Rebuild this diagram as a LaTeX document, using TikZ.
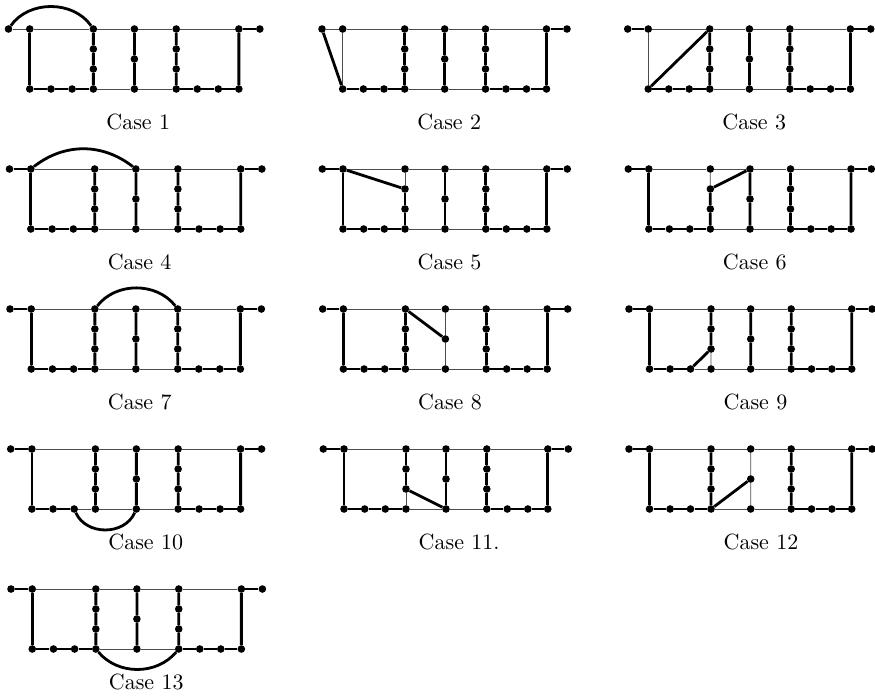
\documentclass[tikz,border=0pt]{standalone}
\usepackage{amsmath, amssymb}
\usepackage{xcolor}
\usepackage{tikz}
\usetikzlibrary{positioning, calc}

% one graph: id, left end x, top line y, x stretch, thin edges, caption
\newcommand{\casegraph}[6]{
  \foreach \p/\q in {#5} {\expandafter\gdef\csname skip#1\p\q\endcsname{}}
  \begin{scope}[shift={(#2,#3)}, xscale=#4]
    % Nodes
    \foreach \name/\px/\py in {tl/0/0, t1/20.7/0, t2/82.7/0, t3/122.7/0, t4/163.5/0, t5/224.5/0, tr/245/0,
        v2a/82.7/20, v2b/82.7/40, v3/122.7/30, v4a/163.5/20, v4b/163.5/40,
        b1/20.7/60, h1a/41.4/60, h1b/62/60, b2/82.7/60, b3/122.7/60, b4/163.5/60,
        h4a/184/60, h4b/204.5/60, b5/224.5/60}
      \node[dot] (#1-\name) at (\px,\py) {};
    \node[caselabel] (#1-label) at (95,93) {Case #6};
    % Links
    \foreach \p/\q in {tl/t1, t1/t2, t2/t3, t3/t4, t4/t5, t5/tr, t1/b1, b1/h1a, h1a/h1b, h1b/b2, b2/b3, b3/b4,
        b4/h4a, h4a/h4b, h4b/b5, b5/t5, t2/v2a, v2a/v2b, v2b/b2, t3/v3, v3/b3, t4/v4a, v4a/v4b, v4b/b4}
      \draw[thinedge] (#1-\p) -- (#1-\q);
    \foreach \p/\q in {tl/t1, t5/tr, t1/b1, b1/h1a, h1a/h1b, h1b/b2, b4/h4a, h4a/h4b, h4b/b5, b5/t5,
        t2/v2a, v2a/v2b, v2b/b2, t3/v3, v3/b3, t4/v4a, v4a/v4b, v4b/b4} {
      \ifcsname skip#1\p\q\endcsname\else
        \draw[thickedge] (#1-\p) -- (#1-\q);
      \fi
    }
  \end{scope}
}

\begin{document}
\begin{tikzpicture}[
    x=1pt, y=-1pt,
    dot/.style={circle, fill=black, inner sep=0pt, minimum size=7.6pt},
    thinedge/.style={line width=0.7pt, black!70},
    thickedge/.style={line width=2.8pt, black},
    caselabel/.style={anchor=west, inner sep=0pt, scale=2.2}
]
\useasboundingbox (0,0) rectangle (875,697);

% Row 1
\casegraph{c1}{8.5}{29}{1.026}{tl/t1}{1}
\draw[thickedge] (c1-tl) to[bend left=55] (c1-t2);
\casegraph{c2}{322}{29}{1}{tl/t1, t1/b1}{2}
\draw[thickedge] (c2-tl) -- (c2-b1);
\casegraph{c3}{627.7}{29}{0.992}{t1/b1}{3}
\draw[thickedge] (c3-b1) -- (c3-t2);

% Row 2
\casegraph{c4}{9.5}{169}{1.03}{}{4}
\draw[thickedge] (c4-t1) to[bend left=38] (c4-t3);
\casegraph{c5}{322.3}{169}{1}{t2/v2a}{5}
\draw[thickedge] (c5-t1) -- (c5-v2a);
\casegraph{c6}{628.3}{169}{0.992}{t2/v2a}{6}
\draw[thickedge] (c6-v2a) -- (c6-t3);

% Row 3
\casegraph{c7}{10}{309}{1.026}{}{7}
\draw[thickedge] (c7-t2) to[bend left=52] (c7-t4);
\casegraph{c8}{322.7}{309}{1}{t3/v3, v3/b3}{8}
\draw[thickedge] (c8-t2) -- (c8-v3);
\casegraph{c9}{629}{309}{0.992}{h1b/b2, v2b/b2}{9}
\draw[thickedge] (c9-h1b) -- (c9-v2b);

% Row 4
\casegraph{c10}{10.7}{449}{1.024}{h1b/b2}{10}
\draw[thickedge] (c10-h1b) to[bend right=66, looseness=1.1] (c10-b3);
\casegraph{c11}{323.3}{449}{1}{v2b/b2}{11.}
\draw[thickedge] (c11-v2b) -- (c11-b3);
\casegraph{c12}{629}{449}{0.992}{t3/v3, v3/b3}{12}
\draw[thickedge] (c12-b2) -- (c12-v3);

% Row 5
\casegraph{c13}{11}{589}{1.026}{}{13}
\draw[thickedge] (c13-b2) to[bend right=50] (c13-b4);

\end{tikzpicture}
\end{document}
